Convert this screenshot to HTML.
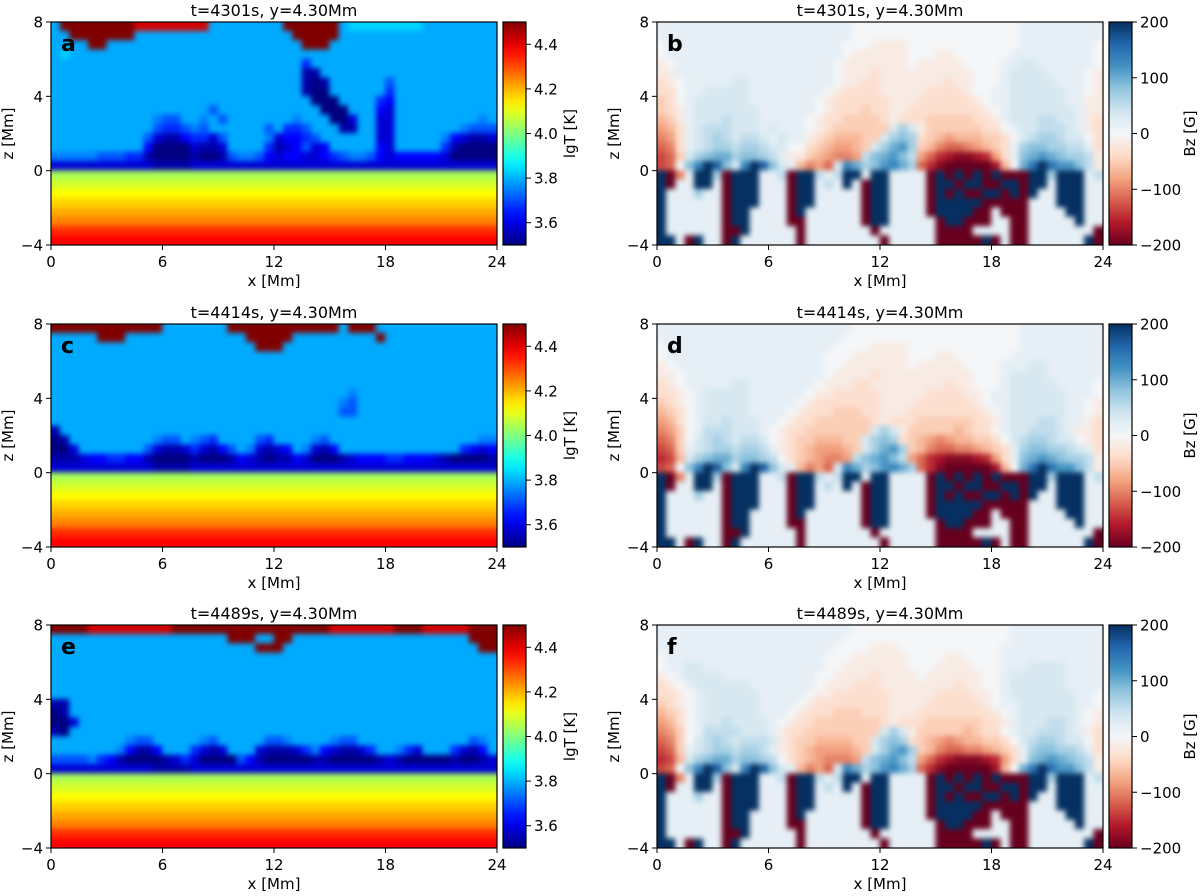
<!DOCTYPE html>
<html><head><meta charset="utf-8">
<style>
html,body{margin:0;padding:0;background:#fff;}
body{width:1200px;height:891px;overflow:hidden;font-family:"Liberation Sans",sans-serif;}
svg text{font-family:"DejaVu Sans","Liberation Sans",sans-serif;}
</style></head>
<body>
<svg id="fig" width="1200" height="891" xmlns="http://www.w3.org/2000/svg">
<defs>
<filter id="soft" filterUnits="userSpaceOnUse" x="0" y="0" width="1200" height="891" color-interpolation-filters="sRGB">
<feGaussianBlur stdDeviation="2.6"/>
</filter>
</defs>
</svg>
<script>
// ---- data: temperature panels (lgT), letters A..Y => 3.5 + idx/24 ----
const tTimes = ["t=4301s, y=4.30Mm","t=4414s, y=4.30Mm","t=4489s, y=4.30Mm"];
const xTicks = [0,6,12,18,24];
const zTicks = [-4,0,4,8];
const tCbarTicks = [3.6,3.8,4.0,4.2,4.4];
const bCbarTicks = [-200,-100,0,100,200];
const T_a_upper = [
"HYYYYYYYYWWWWWWWWHHHHHHHHYYYYYYHIIIIIIIIHHHHHHHH",
"HHYYYYYYYHHHHHHHHHHHHHHHHHYYYYYHHHHHHHHHHHHHHHHH",
"HHHHYYHHHHHHHHHHHHHHHHHHHHHYYYHHHHHHHHHHHHHHHHHH",
"HIHHHHHHHHHHHHHHHHHHHHHHHHHHHHHHHHHHHHHHHHHHHHHH",
"HHHHHHHHHHHHHHHHHHHHHHHHHHHEHHHHHHHHHHHHHHHHHHHH",
"HHHHHHHHHHHHHHHHHHHHHHHHHHHBBHHHHHHHHHHHHHHHHHHH",
"HHHHHHHHHHHHHHHHHHHHHHHHHHHBABHHHHHHFHHHHHHHHHHH",
"HHHHHHHHHHHHHHHHHHHHHHHHHHHBAAHHHHHHEHHHHHHHHHHH",
"HHHHHHHHHHHHHHHHHHHHHHHHHHHHAAAHHHHEDHHHHHHHHHHH",
"HHHHHHHHHHHHHHHHHFHHHHHHHHHHHAAAHHHDCHHHHHHHHHHH",
"HHHHHHHHHHHGFFHHGHFHHHHHHHGHHHAACHHCCHHHHHHHHHGH",
"HHHHHHHHHHHFEEFGFHHHHHHFHEEFHHHBBHHCCHHHHHHHGFFF",
"HHHHHHHHHHFCBBDEECFHHHHGCDDEFHHHHHHCCHHHHHGDCBBC",
"HHHHHHHHHHDAAAACBBCHHHHEBCDFCDHHHHHDCHHHHHEBAAAA",
"GGGGGFFFEEBAAAABAABFGGFDCDDCCDEFGGFDCDDDDDCAAAAA"];
const T_c_upper = [
"YYYYYYYYYYYYHHHHHHHYYYYYYYYYYYYHYYYHHHHHHHHHHHHH",
"HHHHHYYYHHHHHHHHHHHHHYYYYYHHHHHHHHHYHHHHHHHHHHHH",
"HHHHHHHHHHHHHHHHHHHHHHYYYHHHHHHHHHHHHHHHHHHHHHHH",
"HHHHHHHHHHHHHHHHHHHHHHHHHHHHHHHHHHHHHHHHHHHHHHHH",
"HHHHHHHHHHHHHHHHHHHHHHHHHHHHHHHHHHHHHHHHHHHHHHHH",
"HHHHHHHHHHHHHHHHHHHHHHHHHHHHHHHHHHHHHHHHHHHHHHHH",
"HHHHHHHHHHHHHHHHHHHHHHHHHHHHHHHHHHHHHHHHHHHHHHHH",
"HHHHHHHHHHHHHHHHHHHHHHHHHHHHHHHHGHHHHHHHHHHHHHHH",
"HHHHHHHHHHHHHHHHHHHHHHHHHHHHHHHGFHHHHHHHHHHHHHHH",
"HHHHHHHHHHHHHHHHHHHHHHHHHHHHHHHFFHHHHHHHHHHHHHHH",
"HHHHHHHHHHHHHHHHHHHHHHHHHHHHHHHHHHHHHHHHHHHHHHHH",
"BHHHHHHHHHHHHHHHHHHHHHHHHHHHHHHHHHHHHHHHHHHHHHHH",
"ABHHHHHHHHHGFFHGFEHHHHFEHHHHGFHHHHHHHHHHHHHHHHGG",
"AACHHHHHHHFCBBCECBDFHGCBCDHGCBDHHHHHHHHHHHHHEDCD",
"BBBCDDEEDDBAAAABAAABDCBABBDCAAABCDDDEEDDDCBAAAAB"];
const T_e_upper = [
"YYYYWWWWWWWWWYYYYYYYYYYYYYYYYYWWWWWWWYYYWWWWWYYY",
"HHHHHHHHHHHHHHHHHHHYYYHHYYHHHHHHHHHHHHHHHHHHHYYY",
"HHHHHHHHHHHHHHHHHHHHHHYYYHHHHHHHHHHHHHHHHHHHHHYY",
"HHHHHHHHHHHHHHHHHHHHHHHHHHHHHHHHHHHHHHHHHHHHHHHH",
"HHHHHHHHHHHHHHHHHHHHHHHHHHHHHHHHHHHHHHHHHHHHHHHH",
"HHHHHHHHHHHHHHHHHHHHHHHHHHHHHHHHHHHHHHHHHHHHHHHH",
"HHHHHHHHHHHHHHHHHHHHHHHHHHHHHHHHHHHHHHHHHHHHHHHH",
"HHHHHHHHHHHHHHHHHHHHHHHHHHHHHHHHHHHHHHHHHHHHHHHH",
"BBHHHHHHHHHHHHHHHHHHHHHHHHHHHHHHHHHHHHHHHHHHHHHH",
"ABHHHHHHHHHHHHHHHHHHHHHHHHHHHHHHHHHHHHHHHHHHHHHH",
"AACHHHHHHHHHHHHHHHHHHHHHHHHHHHHHHHHHHHHHHHHHHHHH",
"BAHHHHHHHHHHHHHHHHHHHHHHHHHHHHHHHHHHHHHHHHHHHHHH",
"HHHHHHHHGFFHHHHHGFHHHHHFFGHHHHGFFHHHHHHHHHHHHFGH",
"HHHHHHHGDBBDHHHECBCHHHCBBBCEGDCBBCEHHGECHHHECBDH",
"FFFFGEDBAAAABCECAAAAFDBAAAAABBAAAAABCBAAAAABAABC"];
const T_sub = [
"CCCCCCCCCCCBBBBCCCCCCCCCCCCCCCCCCCCCCCCCCCCCCCCC",
"NNNNNNNNNNNNNNNNNNNNNNNNNNNNNNNNNNNNNNNNNNNNNNNN",
"OOOOOOOOOOOOOOOOOOOOOOOOOOOOOOOOOOOOOOOOOOOOOOOO",
"PPPPPPPPPPPPPPPPPPPPPPPPPPPPPPPPPPPPPPPPPPPPPPPP",
"QQQQQQQQQQQQQQQQQQQQQQQQQQQQQQQQQQQQQQQQQQQQQQQQ",
"RRRRRRRRRRRRRRRRRRRRRRRRRRRRRRRRRRRRRRRRRRRRRRRR",
"SSSSSSSSSSSSSSSSSSSSSSSSSSSSSSSSSSSSSSSSSSSSSSSS",
"UUUUUUUUUUUUUUUUUUUUUUUUUUUUUUUUUUUUUUUUUUUUUUUU",
"VVVVVVVVVVVVVVVVVVVVVVVVVVVVVVVVVVVVVVVVVVVVVVVV"];
// ---- data: Bz panels, letters A..Y => -200 + idx*400/24 (M = 0) ----
const B_b_upper = [
"NNNNNNNNNNNNNNNNNNNNNMMMMMMMMMMMMMMMMMMNNNNNNNNN",
"NNNNNNNNNNNNNNNNNNNNNMMMMMMMMMMMMMMMMMMNNNNNNNNN",
"MNNNNNNNNNNNNNNNNNNNMMMLLLLMMMMMMMMMMMMNNNNNNNNM",
"MNNNNNNNNNNNNNNNNNNNMLLLLLLMMMLLMMMMMMNNNNNNNNNM",
"LMNNNNNNNNNNNNNNNNNMLLLLLLLMLLLLLMMMMNNOONNNNNNM",
"LLNNNNNNNNNNNNNNNNNMLLLKLLLLLLLLLLMMMNOOOONNNNML",
"KLMNNNNNOONNNNNNNNNMLLKKLLLLLLLKLLMMMNOOOOONNNML",
"KKMNNOOOOONNNNNNNNMLKKKKLLLLLKKKKLMMNNOOOOOONNML",
"JKMNOOOOOONNNNNNNMLKKKKKKLLLKKKKKKLMNNOOOOOONNLL",
"JKLNOOOOOOONNNNNNMLKKKJKKLLKKKKKKKKLMNOOOOOOONLL",
"IJLNOOOPOOONNNNNMLKKJJJJKLKKKJJJJJKKLNOOOPPOONLK",
"HIKNOPPPOOONONNNMLKJJJJJJOQOLJJJJJJKKMNOOPPPONLK",
"GHKNOPQPOPPONONNLKJIIIJJOQRQKJIHIIIJJKMOPQQPOOMK",
"FGKNOPQQPQQPOOMMKJIHHIJOQSTQJIGFFGHIJKNQRRQQPPNK",
"EFJOQRSSQRRQPNLLJIHGGHPRSTRPHFDCBBCDHKNRSTSRQQPL"];
const B_d_upper = [
"NNNNNNNNNNNNNNNNNNNNNMMMMMMMMMMMMMMMMMMNNNNNNNNN",
"NNNNNNNNNNNNNNNNNNNNMMMMMMMMMMMMMMMMMMMNNNNNNNNN",
"MNNNNNNNNNNNNNNNNNNMMMMLLLLMMMMMMMMMMMMNNNNNNNNN",
"MNNNNNNNNNNNNNNNNNMMMLLLLLLMMMLLMMMMMMNNNNNNNNNN",
"LMNNNNNNNNNNNNNNNNMMLLLLLLLMLLLLLMMMMNNNOONNNNNN",
"LLMNNNNNNNNNNNNNNNMLLLLKLLLLLLLLLLMMMNOOOONNNNNN",
"KLMNNNNNOONNNNNNNMLLLKKLLLLLLLLKLLMMMNOOOOONNNNM",
"KKLMNOOOOONNNNNNMLLKKKKKLLLLLKKKKLLMNNOOOOOONNNM",
"JKLMNOOOOONNNNNMLKKKKKKKLLLLKKKKKKLMNNOOOOOONNML",
"IJKMNOOOOONNNNMLKKKJJJKKLLLKKKKKKKKLMNOOOOOONNML",
"HIKMNOOPOOONNMLKKJJJJJJKLKKKJJJJJJKKLNOOOPPONNLK",
"GHJMNPPPOOONMLKKJJJJJJJOQOLJJJJJIJKKMNOOPPPONLLK",
"FGJMOPQPOPPOMLKJJIIIJJOQRQKJIHGHIIJJKMOPQQPOOMLK",
"EFJNOPQQPQQPNLKJIHHHIJOQSTQJIGFFGGHIJKNQRRQQPONK",
"DEIOQRSSQRRQPMKJIHGGHPRSTRPHFDCBBBCDHKNRSTSRQQPL"];
const B_f_upper = [
"NNNNNNNNNNNNNNNNNNNNNMMMMMMMMMMMMMMMMMNNNNNNNNNN",
"NNNNNNNNNNNNNNNNNNNNMMMMMMMMMMMMMMMMMMNNNNNNNNNN",
"NNNNNNNNNNNNNNNNNNNMMMMLLLMMMMMMMMMMMNNNNNNNNNNN",
"MNNNNNNNNNNNNNNNNNMMMLLLLLLMMMMLLMMMMNNNNNNNNNNN",
"MNNOONNNNNNNNNNNNNMMLLLLLLLMMMLLLLMMMNNNOOOONNNN",
"LMNOOOONNNNNNNNNNMMLLLLKLLLLMLLLLLLMMNOOOOOONNNN",
"KLMNOOOOOONNNNNNNMLLLKKKLLLLLLLLKLLMMNOOOOOONNNN",
"KKLMNOOOOOONNNNNMLLKKKKKKLLLLLKKKKLLMNOOOOOOONNM",
"JKLMNOOOOOONNNNMLKKKKKKKKLLLLKKKKKKLMNNOOOOOONNM",
"IJKMNOOOOOONNNMLKKKJJJKKKLLLKKKKKKKKLMNOOOOOONML",
"HIKMNOOPOOOONMLKKJJJJJJJKLKKKJJJJJJKKLNOOOPPONML",
"GHJMNPPPPOOONLKKJJJJJJJJOQOLJJJJJIJKKMNOOPPPONLK",
"FGJMOPQPOPPPOLKJJIIIIJJOQRQKJIHGHIIJJKMOPQQPOOMK",
"EFJNOPQQPQQPNLKJIHHHHIJOQSTQJIGFFGGHIJKNQRRQQPNK",
"DEIOQRSSQRRQPMKJIHGGGHPRSTRPHFDCBBBCDHKNRSTSRQPL"];
const B_sub = [
"EFMRUYWROUYWRONIGHFOUSQRTUSQFDBAAAAACIMSVYVTTRPL",
"YAGNYYQAYYYNNPAYYPNPYYNYYNNNNAYAYAYAYAAAYYQYYYNP",
"YANNYYNAYYYNNNAYYNPNYNAYYNNNNAYYAYYAAYYAYYNYYYNN",
"YNNNQNNAYYYNNNAYYNNNNNAYYNNNNAYAYAAYYAYAYNNYYYNN",
"YNNNNNNAYYYNNNAYYNNNNNAYYNNNNAYYYYYAAAAANNNYYYNN",
"YNNNNNNAYYNNNNAYNNNNNNAYYNNNNAYYYYAANAAANNNNYYNN",
"YNNNNNNAYYNNNNAANNNNNNAYYNNNNNAYYAAANNAANNNNNYNN",
"YNNNNNNAAYNNNNNANNNNNNNANNNNNNAAAANNNNAANNNNNNNA",
"YYNAYNNAYNNNNNNANNNNNNNNANNNNNAAAAAYANAANNNNNNYA"];

// ---- colormaps ----
function clamp(v){return Math.max(0,Math.min(1,v));}
function jet(t){
  const r=clamp(1.5-Math.abs(4*t-3)), g=clamp(1.5-Math.abs(4*t-2)), b=clamp(1.5-Math.abs(4*t-1));
  return `rgb(${Math.round(r*255)},${Math.round(g*255)},${Math.round(b*255)})`;
}
const rdbuStops=[[103,0,31],[178,24,43],[214,96,77],[244,165,130],[253,219,199],[244,246,248],[209,229,240],[146,197,222],[67,147,195],[33,102,172],[5,48,97]];
function rdbu(t){
  t=clamp(t); const p=t*(rdbuStops.length-1); const i=Math.min(Math.floor(p),rdbuStops.length-2); const f=p-i;
  const a=rdbuStops[i], b=rdbuStops[i+1];
  return `rgb(${Math.round(a[0]+(b[0]-a[0])*f)},${Math.round(a[1]+(b[1]-a[1])*f)},${Math.round(a[2]+(b[2]-a[2])*f)})`;
}
const letterIdx = c => c.charCodeAt(0)-65;
const tVal = c => 3.5 + letterIdx(c)/24;
const bVal = c => -200 + letterIdx(c)*400/24;

// ---- layout ----
const NS="http://www.w3.org/2000/svg";
const svg=document.getElementById('fig');
const rowTops=[22,324,625];
const plotH=223;
const cols=[{x:51,w:446,cbx:503},{x:657,w:446,cbx:1109}];
const cbW=23;
function mk(tag,attrs,parent){const e=document.createElementNS(NS,tag);for(const k in attrs)e.setAttribute(k,attrs[k]);(parent||svg).appendChild(e);return e;}
function xScale(px,v){return px.x + v/24*px.w;}
function zScale(top,z){return top + (8-z)/12*plotH;}

function drawPanel(px,top,grid,kind,letter,title,cbLabel){
  const g=mk('g',{});
  
  
  const cp='clip'+letter;
  const clip=mk('clipPath',{id:cp},g); mk('rect',{x:px.x,y:top,width:px.w,height:plotH},clip);
  const hm=mk('g',{'clip-path':`url(#${cp})`},g);
  const inner=mk('g',{filter:'url(#soft)'},hm);
  const nr=grid.length, nc=grid[0].length;
  const dz=12/nr, dx=24/nc;
  for(let r=0;r<nr;r++){
    const z1=8-r*dz, z0=z1-dz;
    for(let c=0;c<nc;c++){
      const ch=grid[r][c];
      const col = kind==='T' ? jet((tVal(ch)-3.5)/1.0) : rdbu((bVal(ch)+200)/400);
      // extend edge cells outward so blur doesn't fade at the frame
      let x0=xScale(px,c*dx), x1=xScale(px,(c+1)*dx);
      let y0=zScale(top,z1), y1=zScale(top,z0);
      if(c===0) x0-=10; if(c===nc-1) x1+=10;
      if(r===0) y0-=10; if(r===nr-1) y1+=10;
      const rc=mk('rect',{x:x0-0.3,y:y0-0.3,width:x1-x0+0.6,height:y1-y0+0.6,fill:col},inner);
      
      
    }
  }
  const fr=mk('rect',{x:px.x,y:top,width:px.w,height:plotH,fill:'none',stroke:'#000','stroke-width':1.2},g);
  
  
  xTicks.forEach(v=>{
    const x=xScale(px,v);
    mk('line',{x1:x,x2:x,y1:top+plotH,y2:top+plotH+5,stroke:'#000','stroke-width':1},g);
    const t=mk('text',{x:x,y:top+plotH+22,'text-anchor':'middle','font-size':15},g); t.textContent=v;
    
    
  });
  zTicks.forEach(v=>{
    const y=zScale(top,v);
    mk('line',{x1:px.x-5,x2:px.x,y1:y,y2:y,stroke:'#000','stroke-width':1},g);
    const t=mk('text',{x:px.x-8,y:y+5.5,'text-anchor':'end','font-size':15},g); t.textContent=(v<0?'\u2212'+(-v):v);
    
    
  });
  const xl=mk('text',{x:px.x+px.w/2,y:top+plotH+41,'text-anchor':'middle','font-size':15},g); xl.textContent='x [Mm]';
  
  
  const zx=px.x-38, zy=top+plotH/2;
  const zl=mk('text',{x:zx,y:zy,'text-anchor':'middle','font-size':15,transform:`rotate(-90 ${zx} ${zy})`},g); zl.textContent='z [Mm]';
  
  
  const tt=mk('text',{x:px.x+px.w/2,y:top-6,'text-anchor':'middle','font-size':16},g); tt.textContent=title;
  
  
  const lt=mk('text',{x:px.x+10,y:top+29,'font-size':22,'font-weight':'bold'},g); lt.textContent=letter;
  
  
  const gid='cg'+letter;
  const lg=mk('linearGradient',{id:gid,x1:0,y1:1,x2:0,y2:0},g);
  for(let i=0;i<=20;i++){const t=i/20; mk('stop',{offset:t,'stop-color': kind==='T'?jet(t):rdbu(t)},lg);}
  const cb=mk('rect',{x:px.cbx,y:top,width:cbW,height:plotH,fill:`url(#${gid})`,stroke:'#000','stroke-width':1.2},g);
  
  
  const ticks = kind==='T'?tCbarTicks:bCbarTicks;
  ticks.forEach(v=>{
    const f = kind==='T' ? (v-3.5)/1.0 : (v+200)/400;
    const y = top+plotH - f*plotH;
    mk('line',{x1:px.cbx+cbW,x2:px.cbx+cbW+5,y1:y,y2:y,stroke:'#000','stroke-width':1},g);
    const t=mk('text',{x:px.cbx+cbW+8,y:y+5.5,'font-size':15},g);
    t.textContent = kind==='T' ? v.toFixed(1) : (v<0?'\u2212'+(-v):String(v));
    
    
  });
  const cx = kind==='T' ? px.cbx+72 : px.cbx+86, cy=top+plotH/2;
  const cl=mk('text',{x:cx,y:cy,'text-anchor':'middle','font-size':15,transform:`rotate(-90 ${cx} ${cy})`},g); cl.textContent=cbLabel;
  
  
}
const tGrids=[T_a_upper.concat(T_sub),T_c_upper.concat(T_sub),T_e_upper.concat(T_sub)];
const bGrids=[B_b_upper.concat(B_sub),B_d_upper.concat(B_sub),B_f_upper.concat(B_sub)];
const tLetters=['a','c','e'], bLetters=['b','d','f'];
for(let i=0;i<3;i++){
  drawPanel(cols[0],rowTops[i],tGrids[i],'T',tLetters[i],tTimes[i],'lgT [K]');
  drawPanel(cols[1],rowTops[i],bGrids[i],'B',bLetters[i],tTimes[i],'Bz [G]');
}
</script>
</body></html>
